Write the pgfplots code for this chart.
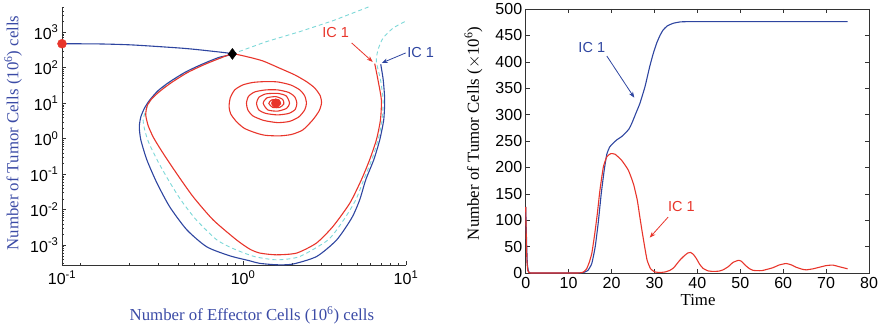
\documentclass[border=0pt]{standalone}
\usepackage{pgfplots}
\pgfplotsset{compat=1.18}
\usetikzlibrary{arrows.meta}
\usepackage{fontspec}
\setmainfont{Liberation Serif}
\newfontfamily\hel{Liberation Sans}
\definecolor{myblue}{HTML}{2E45A0}
\definecolor{labblue}{HTML}{3B4BA6}
\definecolor{myred}{HTML}{E8352B}
\definecolor{mycyan}{HTML}{7DD8D8}
\begin{document}
\begin{tikzpicture}
\useasboundingbox (0,0) rectangle (885pt,327pt);
% ---------------- left: phase plane ----------------
\begin{axis}[
  at={(62pt,62pt)}, anchor=south west,
  scale only axis, width=344pt, height=258.3pt,
  xmode=log, ymode=log,
  xmin=0.0775, xmax=10, ymin=2.75e-4, ymax=5250,
  axis x line*=bottom, axis y line*=left,
  axis line style={line width=0.7pt, black!80},
  tick align=inside,
  major tick length=4pt, minor tick length=2.5pt,
  every tick/.style={black!80, line width=0.5pt},
  xtick={0.0775,1,10},
  xticklabels={10\textsuperscript{-1},10\textsuperscript{0},10\textsuperscript{1}},
  minor xtick={0.1,0.2,0.3,0.4,0.5,0.6,0.7,0.8,0.9,2,3,4,5,6,7,8,9},
  ytick={1e-3,1e-2,1e-1,1,10,100,1000},
  yticklabels={10\textsuperscript{-3},10\textsuperscript{-2},10\textsuperscript{-1},10\textsuperscript{0},10\textsuperscript{1},10\textsuperscript{2},10\textsuperscript{3}},
  minor ytick={3e-4,4e-4,5e-4,6e-4,7e-4,8e-4,9e-4,2e-3,3e-3,4e-3,5e-3,6e-3,7e-3,8e-3,9e-3,2e-2,3e-2,4e-2,5e-2,6e-2,7e-2,8e-2,9e-2,0.2,0.3,0.4,0.5,0.6,0.7,0.8,0.9,2,3,4,5,6,7,8,9,20,30,40,50,60,70,80,90,200,300,400,500,600,700,800,900,2000,3000,4000,5000},
  ticklabel style={font=\hel\fontsize{16}{16}\selectfont},
  xticklabel style={yshift=-2pt},
  xlabel={Number of Effector Cells (10\textsuperscript{6}) cells},
  ylabel={Number of Tumor Cells (10\textsuperscript{6}) cells},
  label style={font=\fontsize{16.8}{18}\selectfont, text=labblue},
  xlabel style={at={(axis description cs:0.552,-0.194)}, anchor=center},
  ylabel style={at={(axis description cs:-0.142,0.511)}, anchor=center},
  clip=false,
]
% separatrix (cyan dashed)
\addplot[mycyan, line width=0.9pt, dash pattern=on 4pt off 3pt] coordinates {
(0.861,245) (1.39,543) (2.23,1040) (3.57,2120) (5.95,5250)};
\addplot[mycyan, line width=0.9pt, dash pattern=on 4pt off 3pt, smooth, tension=0.4] coordinates {
(9.82,1990) (8.32,1300) (7.22,678) (6.73,317) (6.58,149) (6.98,45.3) (7.23,12.4) (7.13,3.39) (6.74,0.925) (6.16,0.253) (5.50,0.069) (4.92,0.0189) (4.15,0.00516) (3.33,0.00141) (2.22,0.000474) (1.61,0.000385) (1.18,0.000474) (0.88,0.00078) (0.69,0.00141) (0.516,0.00516) (0.415,0.0189) (0.348,0.069) (0.297,0.253) (0.260,0.925) (0.244,3.39) (0.272,12.4) (0.355,38.5) (0.451,75) (0.574,126) (0.861,245)};
% blue trajectory
\addplot[myblue, line width=1.1pt, smooth, tension=0.4] coordinates {
(7.0,125) (7.25,45.3) (7.40,12.4) (7.30,3.39) (6.90,0.925) (6.34,0.253) (5.66,0.069) (5.20,0.0189) (4.65,0.00587) (3.76,0.00141) (2.83,0.000478) (2.02,0.000292) (1.61,0.000279) (1.26,0.000307) (1.10,0.000361) (0.829,0.0005) (0.599,0.000895) (0.452,0.0027) (0.355,0.012) (0.296,0.0569) (0.257,0.253) (0.236,0.925) (0.231,2.15) (0.236,4.11) (0.249,7.38) (0.268,12.4) (0.300,22.2) (0.350,38.5) (0.445,76.2) (0.566,128) (0.710,195) (0.861,245) (0.625,297) (0.427,354) (0.211,438) (0.132,468) (0.0775,475)};
% red trajectory
\addplot[myred, line width=1.1pt, smooth, tension=0.4] coordinates {
(6.43,130) (6.73,45.3) (7.06,12.4) (6.97,3.39) (6.58,0.925) (5.98,0.253) (5.32,0.069) (4.52,0.0152) (3.56,0.00334) (2.82,0.00114) (2.13,0.000596) (1.60,0.000533) (1.27,0.000596) (1.10,0.000771) (0.911,0.00141) (0.655,0.00516) (0.493,0.0234) (0.390,0.107) (0.323,0.391) (0.283,1.05) (0.262,2.30) (0.253,4.68) (0.258,8.40) (0.275,13.2) (0.308,21.5) (0.365,38.5) (0.458,73.8) (0.582,124) (0.730,189) (0.861,245)
(1.05,206) (1.32,156) (1.68,96.8) (2.08,62.7) (2.45,40.6) (2.75,27.0) (2.98,16.1) (3.03,10.0) (2.93,6.07) (2.68,3.39) (2.33,1.77) (1.99,1.32) (1.68,1.20) (1.38,1.24) (1.21,1.43) (1.02,1.95) (0.911,3.03) (0.840,5.00) (0.821,8.02) (0.835,14.1) (0.889,23.7) (0.996,32.7) (1.15,38.5) (1.36,40.6) (1.63,39.8) (1.96,32.7) (2.23,23.7) (2.39,16.1) (2.45,10.0) (2.39,6.47) (2.20,4.11) (1.93,3.07) (1.63,2.84) (1.34,3.27) (1.15,4.38) (1.07,6.47) (1.05,10) (1.08,15.6) (1.18,20.8) (1.38,23.7) (1.63,23.7) (1.91,20.1) (2.08,15.0) (2.14,10) (2.09,6.68) (1.91,5.16) (1.63,4.68) (1.38,5.16) (1.25,6.47) (1.21,10) (1.25,14.6) (1.38,18.3) (1.63,18.9) (1.84,16.1) (1.93,10) (1.85,7.15) (1.63,5.99) (1.42,6.47) (1.33,10) (1.40,14.1) (1.59,15.3) (1.75,12.8) (1.78,9.55) (1.68,7.62) (1.52,7.62) (1.44,9.86) (1.50,12.4) (1.66,12.4) (1.70,9.55) (1.61,8.40)};
% equilibria
\addplot[only marks, mark=*, mark size=4.5pt, color=myred] coordinates {(0.0775,475) (1.59,10)};
\addplot[only marks, mark=diamond*, mark size=5.5pt, color=black] coordinates {(0.861,245)};
% annotations
\node[text=myred, font=\hel\fontsize{14.5}{15}\selectfont] at (axis cs:3.70,955) {IC 1};
\draw[myred, line width=0.8pt, -{Stealth[length=6pt,width=4.5pt]}] (axis cs:4.64,500) -- (axis cs:6.25,146);
\node[text=myblue, font=\hel\fontsize{14.5}{15}\selectfont] at (axis cs:12.3,261) {IC 1};
\draw[myblue, line width=0.8pt, -{Stealth[length=6pt,width=4.5pt]}] (axis cs:9.95,261) -- (axis cs:7.10,136);
\end{axis}
% ---------------- right: time series ----------------
\begin{axis}[
  at={(525.7pt,54pt)}, anchor=south west,
  scale only axis, width=343.3pt, height=264pt,
  xmin=0, xmax=80, ymin=0, ymax=500,
  xtick={0,10,...,80}, ytick={0,50,...,500},
  axis line style={line width=0.7pt, black!80},
  tick align=inside,
  major tick length=4pt,
  every tick/.style={black!80, line width=0.5pt},
  ticklabel style={font=\hel\fontsize{16}{16}\selectfont},
  /pgf/number format/assume math mode=true,
  xticklabel style={yshift=-1pt},
  xlabel={Time},
  ylabel={Number of Tumor Cells ($\times$10\textsuperscript{6})},
  label style={font=\fontsize{16.8}{18}\selectfont, text=black},
  xlabel style={at={(axis description cs:0.502,-0.102)}, anchor=center},
  ylabel style={at={(axis description cs:-0.152,0.529)}, anchor=center},
  clip=false,
]
\addplot[myblue, line width=1.1pt, smooth, tension=0.3] coordinates {
(0,125) (0.2,60) (0.4,15) (0.7,2) (1,0.3) (1.5,0) (5,0) (10,0) (12.5,0.3) (13.5,1) (14.5,5) (15.4,18) (16.2,50) (16.9,95) (17.6,150) (18.3,195) (18.9,225) (19.6,239) (20.4,246) (21.2,252) (22.3,258) (23.1,264) (24,272) (24.7,283) (25.8,305) (26.6,321) (27.8,353) (28.9,391) (29.7,415) (30.5,435) (31.3,450) (32,460) (33,468) (34.4,473) (36,475.5) (37.5,476) (45,476) (55,476) (65,476) (75,476)};
\addplot[myred, line width=1.1pt, smooth, tension=0.3] coordinates {
(0,125) (0.15,60) (0.3,20) (0.5,4) (0.8,0.5) (1.2,0) (5,0) (12,0) (12.8,0.5) (13.5,2) (14.2,8) (14.8,20) (15.4,37) (16.1,75) (16.7,113) (17.3,157) (18.1,201) (18.9,220) (19.8,226) (20.8,225) (22.3,214) (23.9,195) (25.1,169) (26,138) (26.6,106) (27.2,75) (27.8,46) (28.3,24) (29.1,8) (30.1,2) (31.3,1) (32.5,2) (33.6,5) (34.5,10) (35.1,16) (36,25) (37,33) (37.8,38) (38.4,39) (39.1,35) (39.8,27) (40.5,17) (41.3,9) (42.5,4) (43.7,3) (45,3.5) (46,6) (47.2,12) (48.3,20) (49.6,24) (50.3,22) (51,16) (52,9) (53,5) (55,4.5) (57.6,10) (59,15) (60.7,18) (62,15) (63,11) (64.5,7) (65.4,6) (67,8) (68.5,11) (70,14) (71.6,15) (73,12) (75,8)};
\node[text=myblue, font=\hel\fontsize{14.5}{15}\selectfont] at (axis cs:15.4,428) {IC 1};
\draw[myblue, line width=0.8pt, -{Stealth[length=6pt,width=4.5pt]}] (axis cs:18.9,411) -- (axis cs:25.3,332);
\node[text=myred, font=\hel\fontsize{14.5}{15}\selectfont] at (axis cs:36.3,125) {IC 1};
\draw[myred, line width=0.8pt, -{Stealth[length=6pt,width=4.5pt]}] (axis cs:33.2,106) -- (axis cs:28.9,67);
\end{axis}
\end{tikzpicture}
\end{document}
